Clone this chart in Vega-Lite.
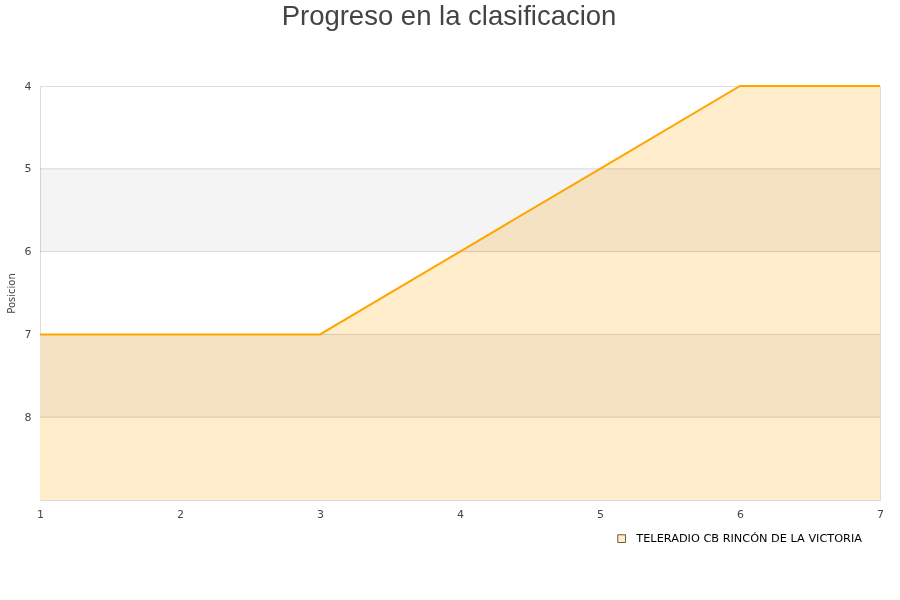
{
  "$schema": "https://vega.github.io/schema/vega-lite/v6.json",
  "width": 840,
  "height": 414,
  "autosize": "none",
  "padding": {"left": 40, "top": 86, "right": 20, "bottom": 100},
  "background": "white",
  "title": {
    "text": "Progreso en la clasificacion",
    "fontSize": 27.5,
    "font": "Liberation Sans",
    "fontWeight": "normal",
    "color": "#444444",
    "anchor": "middle",
    "dx": -11,
    "offset": 50
  },
  "config": {
    "view": {"stroke": "#dddddd", "strokeWidth": 1},
    "font": "DejaVu Sans"
  },
  "datasets": {
    "bands": [{"y0": 5, "y1": 6}, {"y0": 7, "y1": 8}],
    "grid": [{"g": 5}, {"g": 6}, {"g": 7}, {"g": 8}],
    "series": [
      {"jornada": 1, "pos": 7, "team": "TELERADIO CB RINCÓN DE LA VICTORIA"},
      {"jornada": 2, "pos": 7, "team": "TELERADIO CB RINCÓN DE LA VICTORIA"},
      {"jornada": 3, "pos": 7, "team": "TELERADIO CB RINCÓN DE LA VICTORIA"},
      {"jornada": 4, "pos": 6, "team": "TELERADIO CB RINCÓN DE LA VICTORIA"},
      {"jornada": 5, "pos": 5, "team": "TELERADIO CB RINCÓN DE LA VICTORIA"},
      {"jornada": 6, "pos": 4, "team": "TELERADIO CB RINCÓN DE LA VICTORIA"},
      {"jornada": 7, "pos": 4, "team": "TELERADIO CB RINCÓN DE LA VICTORIA"}
    ]
  },
  "layer": [
    {
      "data": {"name": "series"},
      "mark": {"type": "area", "fillOpacity": 1, "line": false},
      "encoding": {
        "x": {"field": "jornada", "type": "quantitative", "scale": {"domain": [1, 7], "nice": false, "zero": false},
          "axis": {"title": null, "values": [1,2,3,4,5,6,7], "format": "d", "grid": false, "ticks": false, "domain": false, "labelPadding": 8, "labelFontSize": 11, "labelColor": "#444444", "labelFont": "DejaVu Sans", "labelFlush": false}},
        "y": {"field": "pos", "type": "quantitative", "scale": {"domain": [4, 9], "reverse": true, "nice": false, "zero": false},
          "axis": {"title": "Posicion", "titleFontSize": 10, "titleFont": "DejaVu Sans", "titleFontWeight": "normal", "titleColor": "#444444", "titlePadding": 8, "values": [4,5,6,7,8], "format": "d", "grid": false, "ticks": false, "domain": false, "labelPadding": 9, "labelFontSize": 11, "labelFont": "DejaVu Sans", "labelColor": "#444444", "labelFlush": false}},
        "y2": {"datum": 9},
        "fill": {"field": "team", "type": "nominal", "scale": {"range": ["#FFEDCC"]},
          "legend": {"title": null, "orient": "none", "legendX": 576, "legendY": 447, "symbolType": "square", "symbolSize": 60, "symbolStrokeColor": "#6b5a3c", "symbolStrokeWidth": 1, "labelOffset": 9, "labelFontSize": 11.3, "labelColor": "#000000", "labelFont": "DejaVu Sans", "labelLimit": 0}}
      }
    },
    {
      "data": {"name": "bands"},
      "mark": {"type": "rect", "color": "#f4f4f4", "blend": "multiply"},
      "encoding": {
        "y": {"field": "y0", "type": "quantitative"},
        "y2": {"field": "y1"}
      }
    },
    {
      "data": {"name": "grid"},
      "mark": {"type": "rule", "color": "#dddddd", "strokeWidth": 1, "blend": "multiply"},
      "encoding": {
        "y": {"field": "g", "type": "quantitative"}
      }
    },
    {
      "data": {"name": "series"},
      "mark": {"type": "line", "color": "#FFA500", "strokeWidth": 2},
      "encoding": {
        "x": {"field": "jornada", "type": "quantitative"},
        "y": {"field": "pos", "type": "quantitative"}
      }
    }
  ]
}
